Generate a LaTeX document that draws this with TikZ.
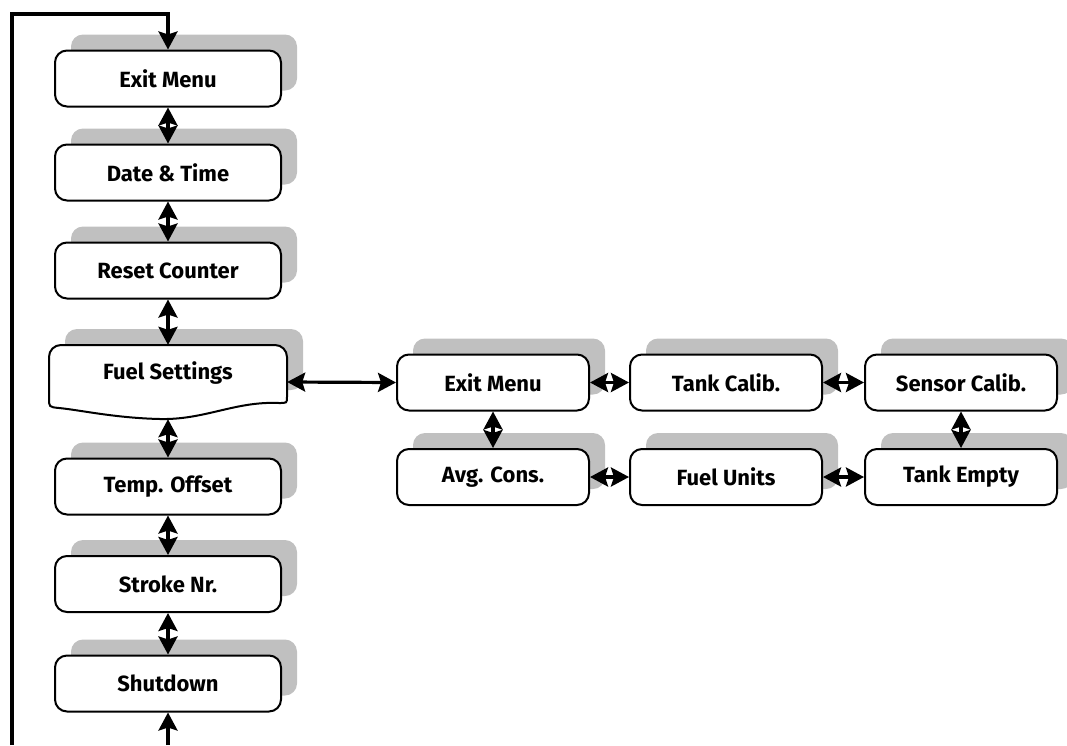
\documentclass[tikz,border=0pt]{standalone}
\usepackage{fontspec}
\setmainfont{Fira Sans}
\usetikzlibrary{arrows.meta,shadows}
\definecolor{shgray}{RGB}{192,192,192}
\begin{document}
\begin{tikzpicture}[x=1pt,y=-1pt,
  lbl/.style={font=\fontsize{22}{26}\selectfont\bfseries},
  menubox/.style={draw, line width=2pt, rounded corners=12pt, fill=white,
    minimum height=56pt, inner sep=0pt, lbl,
    general shadow={fill=shgray, shadow xshift=16pt, shadow yshift=16pt}},
  lbox/.style={menubox, minimum width=226pt},
  rbox/.style={menubox, minimum width=192pt},
  tipS/.tip={Stealth[length=18pt,width=19pt,inset=3pt]},
  link/.style={line width=3.2pt, tipS-tipS},
  oneway/.style={line width=3.2pt, -tipS},
]
\useasboundingbox (0,0) rectangle (1067,745);

% left column
\node[lbox] (em)  at (168,78.5)  {Exit Menu};
\node[lbox] (dt)  at (168,172.5) {Date \& Time};
\node[lbox] (rc)  at (168,270.5) {Reset Counter};

% Fuel Settings (document shape)
\fill[shgray, rounded corners=12pt] (65,329) rectangle (303,390);
\filldraw[fill=white, line width=2pt]
  (49,385) [rounded corners=12pt] -- (49,345) -- (287,345) -- (287,385) [sharp corners]
  -- (287,397) .. controls (287,403) .. (279,403)
  .. controls (235,401) and (205,420) .. (160,419)
  .. controls (115,418) and (80,410) .. (59,408)
  .. controls (49,407) .. (49,398) -- cycle;
\node[minimum width=238pt, minimum height=74pt, inner sep=0pt] (fs) at (168,382) {};
\node[lbl] (fst) at (168,373) {Fuel Settings};

\node[lbox] (to)  at (168,486.5) {Temp. Offset};
\node[lbox] (sn)  at (168,584)   {Stroke Nr.};
\node[lbox] (sd)  at (168,683.5) {Shutdown};

% right cluster
\node[rbox] (em2) at (493,382.5) {Exit Menu};
\node[rbox] (tc)  at (726,382.5) {Tank Calib.};
\node[rbox] (sc)  at (961,382.5) {Sensor Calib.};
\node[rbox] (ac)  at (493,477)   {Avg. Cons.};
\node[rbox] (fu)  at (726,477)   {Fuel Units};
\node[rbox] (te)  at (961,477)   {Tank Empty};

% vertical links
\draw[link] (em) -- (dt);
\draw[link] (dt) -- (rc);
\draw[link] (rc) -- (fs);
\draw[link] (fs) -- (to);
\draw[link] (to) -- (sn);
\draw[link] (sn) -- (sd);

% horizontal / cluster links
\draw[link] (fs.east) -- (em2.west);
\draw[link] (em2) -- (tc);
\draw[link] (tc) -- (sc);
\draw[link] (em2) -- (ac);
\draw[link] (sc) -- (te);
\draw[link] (ac) -- (fu);
\draw[link] (fu) -- (te);

% loop back
\coordinate (lb) at (12,745);
\coordinate (lt) at (12,14);
\coordinate (mt) at (168,14);
\coordinate (bb) at (168,745);
\draw[oneway] (lb) -- (lt) -- (mt) -- (em.north);
\draw[oneway] (bb) -- (sd.south);
\end{tikzpicture}
\end{document}
